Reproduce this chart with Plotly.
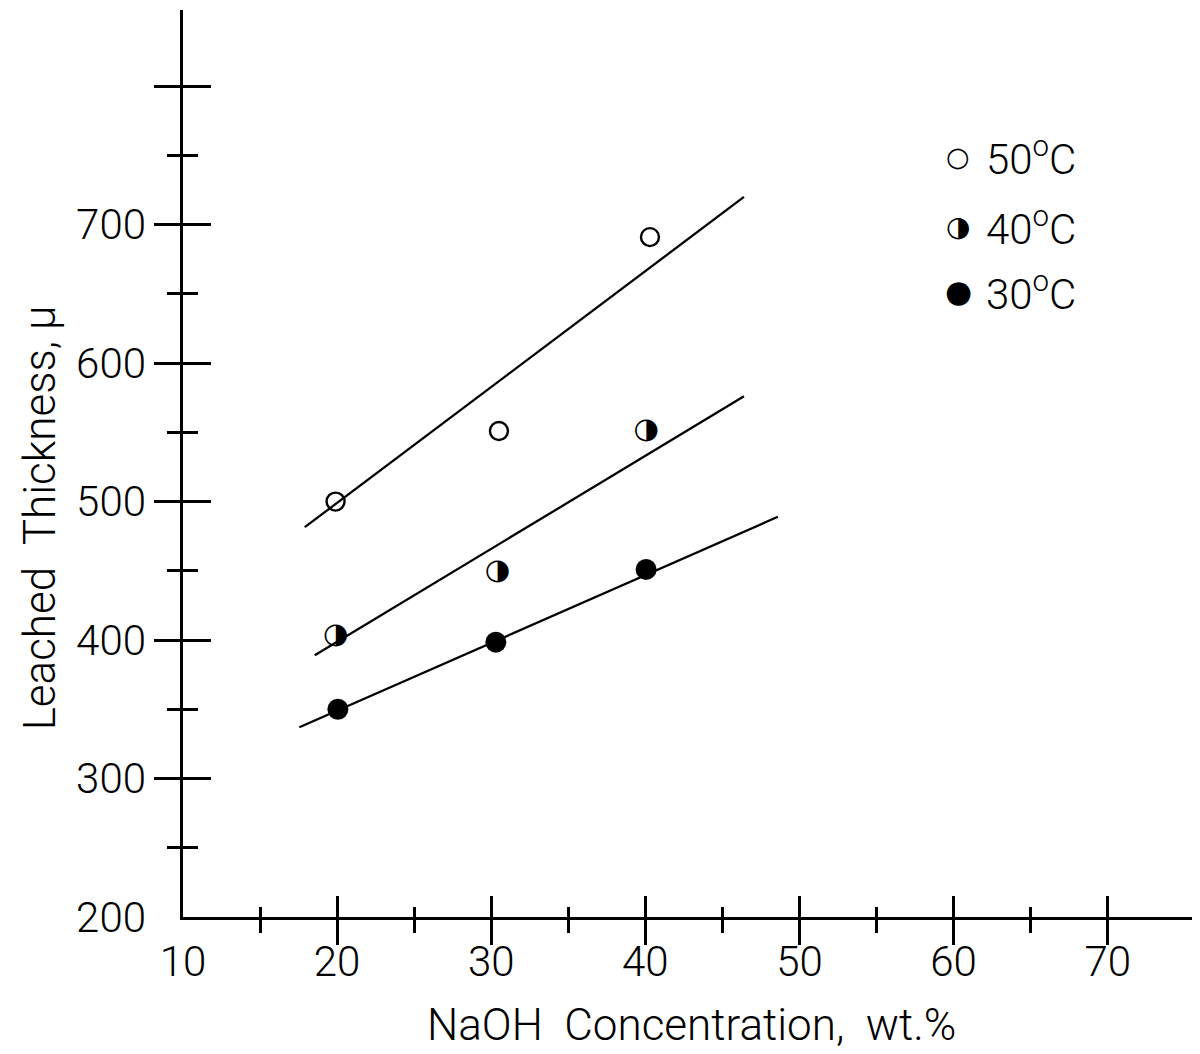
import plotly.graph_objects as go

# ---- data ----
t50_x = [19.9, 30.5, 40.3]
t50_y = [500, 551, 691]
t40_x = [19.9, 30.4, 40.05]
t40_y = [403, 449, 551]
t30_x = [20.05, 30.3, 40.05]
t30_y = [350, 398.5, 451]

fit50_x = [17.9, 46.4]
fit50_y = [481.5, 720]
fit40_x = [18.55, 46.4]
fit40_y = [389, 576]
fit30_x = [17.55, 48.6]
fit30_y = [337, 489]

x_major = [20, 30, 40, 50, 60, 70]
x_minor = [15, 25, 35, 45, 55, 65]
x_labels = [10, 20, 30, 40, 50, 60, 70]
y_major = [300, 400, 500, 600, 700, 800]
y_minor = [250, 350, 450, 550, 650, 750]
y_labels = [200, 300, 400, 500, 600, 700]

legend_names = ["50<sup>o</sup>C", "40<sup>o</sup>C", "30<sup>o</sup>C"]
legend_glyphs = ["○", "◑", "●"]

XR = [10, 75.6]
YR = [200, 855]
INK = "black"
TICKFONT = dict(family="Roboto", size=42, color=INK, weight=300)
TITLEFONT = dict(family="Roboto", size=44, color=INK, weight=300)

fig = go.Figure()
line_style = dict(color=INK, width=2.3)
for fx, fy in [(fit50_x, fit50_y), (fit40_x, fit40_y), (fit30_x, fit30_y)]:
    fig.add_trace(go.Scatter(x=fx, y=fy, mode="lines", line=line_style,
                             showlegend=False, hoverinfo="skip"))

fig.add_trace(go.Scatter(x=t50_x, y=t50_y, mode="markers", showlegend=False,
                         marker=dict(symbol="circle-open", size=18, color=INK,
                                     line=dict(width=2.4, color=INK))))
fig.add_trace(go.Scatter(x=t40_x, y=t40_y, mode="text", text=["◑"] * len(t40_x),
                         textfont=dict(family="DejaVu Sans", size=29, color=INK),
                         textposition="middle center", showlegend=False))
fig.add_trace(go.Scatter(x=t30_x, y=t30_y, mode="markers", showlegend=False,
                         marker=dict(symbol="circle", size=21, color=INK)))

# empty traces so the overlay axes (extra tick sides / labels) get drawn
for xa, ya in [("x2", "y"), ("x3", "y"), ("x", "y2"), ("x", "y3")]:
    fig.add_trace(go.Scatter(x=[None], y=[None], xaxis=xa, yaxis=ya,
                             mode="markers", showlegend=False, hoverinfo="skip"))

common = dict(range=XR, showgrid=False, zeroline=False, fixedrange=True)
ycommon = dict(range=YR, showgrid=False, zeroline=False, fixedrange=True)
fig.update_layout(
    width=1192, height=1046,
    margin=dict(l=175, r=6, t=2, b=137),
    paper_bgcolor="white", plot_bgcolor="white",
    showlegend=False,
    xaxis=dict(**common, showline=True, linecolor=INK, linewidth=2.5,
               ticks="outside", tickvals=x_major, ticklen=25, tickwidth=2.5,
               tickcolor=INK, showticklabels=False,
               minor=dict(tickvals=x_minor, ticks="outside", ticklen=13,
                          tickwidth=2.5, tickcolor=INK)),
    xaxis2=dict(**common, overlaying="x", anchor="y", side="bottom",
                showline=False, ticks="inside", tickvals=x_major, ticklen=21,
                tickwidth=2.5, tickcolor=INK, showticklabels=False,
                minor=dict(tickvals=x_minor, ticks="inside", ticklen=10,
                           tickwidth=2.5, tickcolor=INK)),
    xaxis3=dict(**common, overlaying="x", anchor="y", side="bottom",
                showline=False, ticks="", tickvals=x_labels,
                ticktext=[str(v) for v in x_labels], showticklabels=True,
                tickfont=TICKFONT, ticklabelstandoff=16),
    yaxis=dict(**ycommon, showline=True, linecolor=INK, linewidth=2.5,
               ticks="outside", tickvals=y_major, ticklen=26, tickwidth=2.5,
               tickcolor=INK, showticklabels=False,
               minor=dict(tickvals=y_minor, ticks="outside", ticklen=13,
                          tickwidth=2.5, tickcolor=INK)),
    yaxis2=dict(**ycommon, overlaying="y", anchor="x", side="left",
                showline=False, ticks="inside", tickvals=y_major, ticklen=28,
                tickwidth=2.5, tickcolor=INK, showticklabels=False,
                minor=dict(tickvals=y_minor, ticks="inside", ticklen=15,
                           tickwidth=2.5, tickcolor=INK)),
    yaxis3=dict(**ycommon, overlaying="y", anchor="x", side="left",
                showline=False, ticks="", tickvals=y_labels,
                ticktext=[str(v) for v in y_labels], showticklabels=True,
                tickfont=TICKFONT, ticklabelstandoff=36),
)

# axis titles
fig.add_annotation(text="NaOH&nbsp;&nbsp;Concentration,&nbsp;&nbsp;wt.%",
                   xref="paper", yref="paper", x=0.503, y=-0.119,
                   xanchor="center", yanchor="middle", showarrow=False,
                   font=TITLEFONT)
fig.add_annotation(text="Leached&nbsp;&nbsp;Thickness,&nbsp;µ",
                   xref="paper", yref="paper", x=-0.142, y=0.44, textangle=-90,
                   xanchor="center", yanchor="middle", showarrow=False,
                   font=TITLEFONT)

# legend
leg_y = [0.838, 0.761, 0.690]
for g, name, yy, gs in zip(legend_glyphs, legend_names, leg_y, [27, 28, 31]):
    fig.add_annotation(text=g, xref="paper", yref="paper", x=0.767, y=yy,
                       xanchor="center", yanchor="middle", showarrow=False,
                       font=dict(family="DejaVu Sans", size=gs, color=INK))
    fig.add_annotation(text=name, xref="paper", yref="paper", x=0.792, y=yy,
                       xanchor="left", yanchor="middle", showarrow=False,
                       font=TICKFONT)

fig.write_html("out.html")
